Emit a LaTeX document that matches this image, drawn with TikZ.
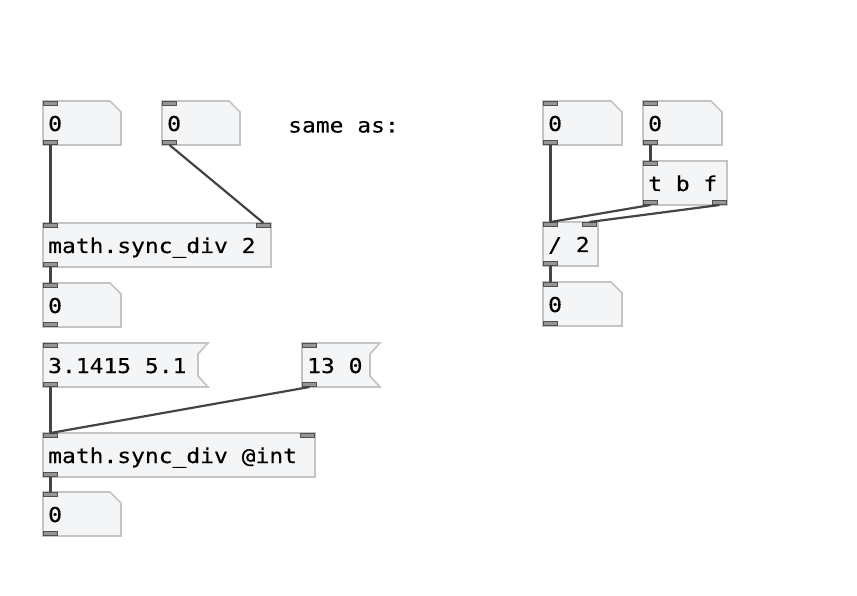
\documentclass[tikz,border=0pt]{standalone}
\usepackage{fontspec}
\newfontfamily\pdfont[FakeStretch=1.12,FakeBold=0.4]{DejaVu Sans Mono}
\definecolor{boxfill}{RGB}{244,245,247}
\definecolor{boxedge}{RGB}{196,196,196}
\definecolor{portedge}{RGB}{80,80,80}
\definecolor{portfill}{RGB}{150,150,150}
\definecolor{wire}{RGB}{68,68,68}
\tikzset{
  pdtext/.style={inner sep=0pt, anchor=base west,
    font=\pdfont\fontsize{20.5}{24}\selectfont, text=black},
  boxline/.style={draw=boxedge, fill=boxfill, line width=1.7pt, line join=miter},
  port/.style={draw=portedge, fill=portfill, line width=1.4pt},
  wireline/.style={draw=wire, line width=2.2pt},
}
% inlet: name, left x, top y
\newcommand\pdinlet[3]{%
  \draw[port] ({#2+0.7},{#3+0.7}) rectangle ({#2+14.3},{#3+4.5});
  \coordinate (#1) at ({#2+7.5},#3);}
% outlet: name, left x, bottom y
\newcommand\pdoutlet[3]{%
  \draw[port] ({#2+0.7},{#3-0.7}) rectangle ({#2+14.3},{#3-4.5});
  \coordinate (#1) at ({#2+7.5},#3);}
% number atom: name, x, y, width, text
\newcommand\pdnum[5]{%
  \draw[boxline] (#2,#3) -- ({#2+#4-11},#3) -- ({#2+#4},{#3+11})
    -- ({#2+#4},{#3+44}) -- (#2,{#3+44}) -- cycle;
  \node[pdtext] (#1) at ({#2+5},{#3+30}) {#5};
  \pdinlet{#1-in}{#2}{#3}
  \pdoutlet{#1-out}{#2}{#3+44}}
% message box: name, x, y, width, text
\newcommand\pdmsg[5]{%
  \draw[boxline] (#2,#3) -- ({#2+#4},#3) -- ({#2+#4-10},{#3+11})
    -- ({#2+#4-10},{#3+33}) -- ({#2+#4},{#3+44}) -- (#2,{#3+44}) -- cycle;
  \node[pdtext] (#1) at ({#2+5},{#3+30}) {#5};
  \pdinlet{#1-in}{#2}{#3}
  \pdoutlet{#1-out}{#2}{#3+44}}
% object box: name, x, y, width, text
\newcommand\pdobj[5]{%
  \draw[boxline] (#2,#3) rectangle ({#2+#4},{#3+44});
  \node[pdtext] (#1) at ({#2+5},{#3+30}) {#5};}
\begin{document}
\begin{tikzpicture}[x=1pt,y=-1pt]
\useasboundingbox (0,0) rectangle (857,596);

% left patch
\pdnum{n1}{43}{101}{78}{0}
\pdnum{n2}{162}{101}{78}{0}
\node[pdtext] (same) at (288,132.5) {same as:};

\pdobj{sdiv}{43}{223}{228}{math.sync\_div 2}
\pdinlet{sdiv-in0}{43}{223}
\pdinlet{sdiv-in1}{256}{223}
\pdoutlet{sdiv-out}{43}{267}

\pdnum{n3}{43}{283}{78}{0}

\pdmsg{m1}{43}{343}{165}{3.1415 5.1}
\pdmsg{m2}{302}{343}{78}{13 0}

\pdobj{idiv}{43}{433}{272}{math.sync\_div @int}
\pdinlet{idiv-in0}{43}{433}
\pdinlet{idiv-in1}{300}{433}
\pdoutlet{idiv-out}{43}{477}

\pdnum{n4}{43}{492}{78}{0}

% equivalent patch
\pdnum{n5}{543}{101}{79}{0}
\pdnum{n6}{643}{101}{79}{0}

\pdobj{tbf}{643}{161}{84}{t b f}
\pdinlet{tbf-in}{643}{161}
\pdoutlet{tbf-out0}{643}{205}
\pdoutlet{tbf-out1}{712}{205}

\pdobj{div}{543}{222}{55}{/ 2}
\pdinlet{div-in0}{543}{222}
\pdinlet{div-in1}{582}{222}
\pdoutlet{div-out}{543}{266}

\pdnum{n7}{543}{282}{79}{0}

% connections
\draw[wireline] (n1-out) -- (sdiv-in0);
\draw[wireline] (n2-out) -- (sdiv-in1);
\draw[wireline] (sdiv-out) -- (n3-in);
\draw[wireline] (m1-out) -- (idiv-in0);
\draw[wireline] (m2-out) -- (idiv-in0);
\draw[wireline] (idiv-out) -- (n4-in);
\draw[wireline] (n5-out) -- (div-in0);
\draw[wireline] (n6-out) -- (tbf-in);
\draw[wireline] (tbf-out0) -- (div-in0);
\draw[wireline] (tbf-out1) -- (div-in1);
\draw[wireline] (div-out) -- (n7-in);
\end{tikzpicture}
\end{document}
